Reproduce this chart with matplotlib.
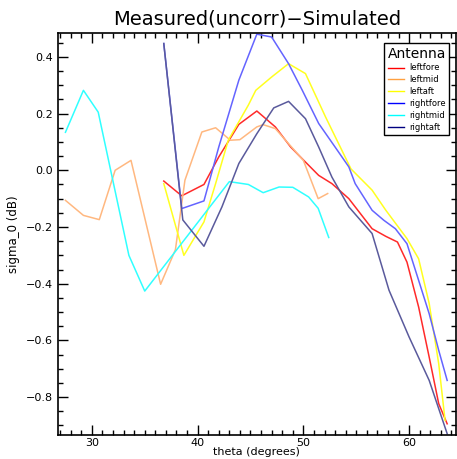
import matplotlib.pyplot as plt
from matplotlib.lines import Line2D
from matplotlib.ticker import MultipleLocator

# data
theta_leftfore = [36.8, 38.5, 40.6, 42.0, 43.9, 45.6, 47.35, 48.8, 50.2, 51.45, 52.7, 54.3,
                  56.5, 57.8, 58.9, 59.8, 60.9, 61.9, 62.8, 63.6]
sig_leftfore = [-0.038, -0.09, -0.05, 0.047, 0.162, 0.209, 0.153, 0.082, 0.029, -0.018, -0.047, -0.10,
                -0.206, -0.233, -0.253, -0.324, -0.482, -0.659, -0.823, -0.894]

theta_leftmid = [27.5, 29.2, 30.7, 32.2, 33.7, 36.5, 37.9, 38.8, 40.4, 41.7, 43.1, 44.0,
                 45.6, 46.2, 47.35, 48.6, 50.0, 51.4, 52.3]
sig_leftmid = [-0.106, -0.159, -0.174, 0.0, 0.035, -0.402, -0.28, -0.035, 0.135, 0.15, 0.106, 0.108,
               0.153, 0.161, 0.147, 0.094, 0.035, -0.10, -0.082]

theta_leftaft = [36.8, 38.7, 40.6, 41.7, 42.9, 44.8, 45.5, 47.0, 48.6, 50.2, 52.1, 54.5,
                 56.5, 57.8, 59.8, 60.9, 61.9, 62.8, 63.4]
sig_leftaft = [-0.047, -0.30, -0.182, -0.047, 0.106, 0.23, 0.282, 0.329, 0.376, 0.341, 0.188, 0.005,
               -0.07, -0.141, -0.241, -0.312, -0.47, -0.682, -0.882]

theta_rightfore = [36.8, 38.5, 40.6, 42.0, 43.9, 45.6, 47.0, 48.6, 49.9, 51.45, 53.0, 54.3,
                   54.9, 56.5, 57.6, 58.7, 59.8, 60.9, 61.9, 62.8, 63.6]
sig_rightfore = [0.447, -0.135, -0.108, 0.082, 0.318, 0.48, 0.47, 0.376, 0.282, 0.165, 0.082, 0.012,
                 -0.047, -0.141, -0.176, -0.206, -0.259, -0.388, -0.506, -0.635, -0.741]

theta_rightmid = [27.5, 29.2, 30.6, 33.5, 35.0, 43.0, 44.8, 46.2, 47.7, 49.0, 50.5, 51.4, 52.4]
sig_rightmid = [0.134, 0.282, 0.205, -0.30, -0.426, -0.04, -0.05, -0.079, -0.059, -0.06, -0.094, -0.134, -0.237]

theta_rightaft = [36.8, 38.6, 40.6, 42.3, 43.9, 45.6, 47.2, 48.6, 50.2, 51.45, 52.7, 54.3,
                  56.5, 58.1, 60.0, 61.9, 63.6]
sig_rightaft = [0.447, -0.175, -0.268, -0.129, 0.024, 0.129, 0.22, 0.243, 0.182, 0.082, -0.024, -0.129,
                -0.223, -0.423, -0.588, -0.741, -0.929]

names = ["leftfore", "leftmid", "leftaft", "rightfore", "rightmid", "rightaft"]
legend_colors = ["#ff0000", "#ffa040", "#ffff00", "#0000ff", "#00ffff", "#000080"]
line_colors = ["#ff2a2a", "#ffb880", "#ffff20", "#6464ff", "#30ffff", "#5a5a9c"]


def main():
    fig = plt.figure(figsize=(4.57, 4.59), dpi=100)
    ax = fig.add_axes([0.127, 0.052, 0.870, 0.876])

    thetas = [theta_leftfore, theta_leftmid, theta_leftaft, theta_rightfore, theta_rightmid, theta_rightaft]
    sigs = [sig_leftfore, sig_leftmid, sig_leftaft, sig_rightfore, sig_rightmid, sig_rightaft]
    for th, sg, c in zip(thetas, sigs, line_colors):
        ax.plot(th, sg, color=c, lw=1.1)

    ax.set_xlim(26.8, 64.4)
    ax.set_ylim(-0.934, 0.484)
    ax.xaxis.set_major_locator(MultipleLocator(10))
    ax.xaxis.set_minor_locator(MultipleLocator(1))
    ax.yaxis.set_major_locator(MultipleLocator(0.2))
    ax.yaxis.set_minor_locator(MultipleLocator(0.05))
    ax.tick_params(which="both", direction="in", top=True, right=True, labelsize=8, width=1)
    ax.tick_params(which="major", length=7)
    ax.tick_params(which="minor", length=3.5)
    ax.tick_params(axis="x", pad=2)
    for s in ax.spines.values():
        s.set_linewidth(1.2)

    ax.set_title("Measured(uncorr)\u2212Simulated", fontsize=14, pad=6)
    ax.set_xlabel("theta (degrees)", fontsize=8, labelpad=-1)
    ax.set_ylabel("sigma_0 (dB)", fontsize=8.5, labelpad=4)

    handles = [Line2D([0], [0], color=c, lw=1) for c in legend_colors]
    leg = ax.legend(handles, names, title="Antenna", loc="upper right", fontsize=6,
                    title_fontsize=10, frameon=True, fancybox=False, framealpha=1,
                    edgecolor="black", handlelength=2.0, handletextpad=0.6,
                    labelspacing=0.35, borderpad=0.4, bbox_to_anchor=(0.995, 0.985))
    leg.get_frame().set_linewidth(1)

    plt.savefig("out.png", dpi=100)


if __name__ == '__main__':
    main()
